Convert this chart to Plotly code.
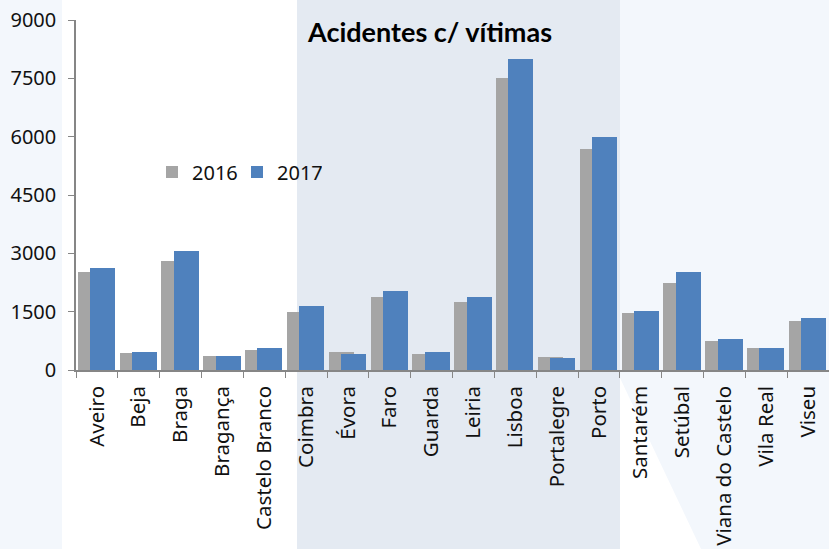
import plotly.graph_objects as go

districts = ["Aveiro", "Beja", "Braga", "Bragança", "Castelo Branco", "Coimbra", "Évora",
             "Faro", "Guarda", "Leiria", "Lisboa", "Portalegre", "Porto", "Santarém",
             "Setúbal", "Viana do Castelo", "Vila Real", "Viseu"]
v2016 = [2528, 450, 2811, 351, 514, 1491, 454, 1869, 420, 1757, 7517, 326, 5675, 1457,
         2229, 754, 557, 1260]
v2017 = [2631, 460, 3068, 368, 566, 1637, 420, 2040, 454, 1877, 7997, 308, 5991, 1517,
         2511, 789, 574, 1329]
yticks = [0, 1500, 3000, 4500, 6000, 7500, 9000]

W, H = 829, 549
L, R, T, B = 76, 829, 20, 370


def px(x):
    return (x - L) / (R - L)


def py(y):
    return (B - y) / (B - T)


fig = go.Figure()
fig.add_trace(go.Bar(x=districts, y=v2016, name="2016", marker=dict(color="#A5A5A5", line=dict(width=0)),
                     width=0.6, offset=-0.46))
fig.add_trace(go.Bar(x=districts, y=v2017, name="2017", marker=dict(color="#4F81BD", line=dict(width=0)),
                     width=0.6, offset=-0.165))

shapes = [
    dict(type="rect", xref="paper", yref="paper", x0=px(-2), x1=px(62), y0=py(H + 2), y1=py(-2),
         fillcolor="#F3F7FC", line=dict(width=0), layer="below"),
    dict(type="rect", xref="paper", yref="paper", x0=px(297), x1=px(620), y0=py(H + 2), y1=py(-2),
         fillcolor="#E4EAF2", line=dict(width=0), layer="below"),
    dict(type="path", xref="paper", yref="paper",
         path="M {a},{b} L {c},{b} L {c},{d} L {e},{d} L {a},{f} Z".format(
             a=px(620), b=py(-2), c=px(W + 2), d=py(H + 2), e=px(702), f=py(378)),
         fillcolor="#F3F7FC", line=dict(width=0), layer="below"),
]

fig.update_layout(
    width=W, height=H,
    margin=dict(l=L, r=W - R, t=T, b=H - B),
    paper_bgcolor="white", plot_bgcolor="rgba(0,0,0,0)",
    barmode="overlay", bargap=0,
    font=dict(family="Noto Sans", size=20, color="#111111"),
    shapes=shapes,
    showlegend=True,
    legend=dict(orientation="h", x=px(152), y=py(172), xanchor="left", yanchor="middle",
                bgcolor="rgba(0,0,0,0)", font=dict(size=20), traceorder="normal",
                itemwidth=30, entrywidth=40),
    annotations=[dict(text="<b>Acidentes c/ vítimas</b>", x=px(429), y=py(31), xref="paper", yref="paper",
                      showarrow=False, font=dict(family="Lato", size=27, color="#000000"),
                      xanchor="center", yanchor="middle")],
)
fig.update_xaxes(type="category", showline=True, linecolor="#868686", linewidth=1.5,
                 ticks="outside", ticklen=6, tickcolor="#868686", tickson="boundaries",
                 tickangle=-90, showgrid=False, zeroline=False, ticklabelstandoff=6,
                 tickfont=dict(size=20.5))
fig.update_yaxes(range=[0, 9000], tickvals=yticks, showline=True, linecolor="#868686", linewidth=1.5,
                 ticks="outside", ticklen=6, tickcolor="#868686", showgrid=False, zeroline=False,
                 ticklabelstandoff=8)

fig.write_html("out.html", post_script="document.body.style.margin='0';",
               config={"displayModeBar": False})
